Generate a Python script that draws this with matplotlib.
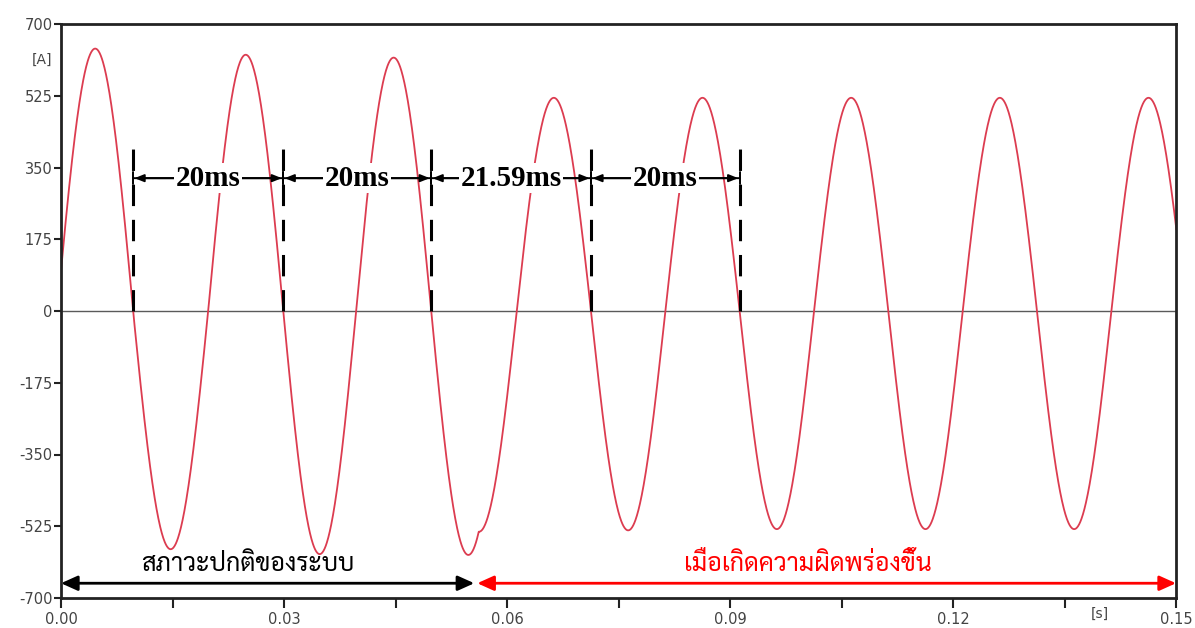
import numpy as np
import matplotlib
matplotlib.use("Agg")
import matplotlib.pyplot as plt
from matplotlib import font_manager
from matplotlib.ft2font import FT2Font

# ---------------- data ----------------
# zero-crossing times [s] bounding each half cycle, and the peak of each half cycle [A]
zero_times = [-0.0005, 0.0097, 0.0198, 0.0299, 0.0397, 0.0498, 0.0613, 0.0713,
              0.0813, 0.0913, 0.1013, 0.1113, 0.1213, 0.1313, 0.1413, 0.1513]
half_peaks = [640, -581, 625, -593, 618, -595, 520, -535, 520, -532, 520, -532,
              520, -532, 520]
fault_time = 0.0562          # kink where the fault starts
normal_half_period = 0.0100  # half period before the fault
fault_trough = -520          # post-fault amplitude of the first faulted half cycle

marker_times = [0.0097, 0.0299, 0.0498, 0.0713, 0.0913]
interval_labels = ["20ms", "20ms", "21.59ms", "20ms"]
marker_top = 410
arrow_level = 324

normal_label = "สภาวะปกติของระบบ"
fault_label = "เมื่อเกิดความผิดพร่องขึ้น"
normal_span = (0.0, 0.0556)
fault_span = (0.0560, 0.15)

y_ticks = [700, 525, 350, 175, 0, -175, -350, -525, -700]
x_major = [0.00, 0.03, 0.06, 0.09, 0.12, 0.15]
x_minor = [0.015, 0.045, 0.075, 0.105, 0.135]

# ---------------- find a Thai capable font ----------------
def find_thai_font():
    prefs = ["Norasi", "Kinnari", "Sarabun", "Angsana", "Noto Serif Thai",
             "Noto Sans Thai", "Loma", "Garuda", "Waree", "Umpush", "Tlwg"]
    cands = []
    for f in font_manager.fontManager.ttflist:
        try:
            ft = FT2Font(f.fname)
            if ft.get_char_index(ord("ส")) and ft.get_char_index(ord("ื")):
                cands.append(f.name)
        except Exception:
            pass
    for p in prefs:
        for c in cands:
            if p.lower() in c.lower():
                return c
    return cands[0] if cands else "DejaVu Sans"

thai_font = find_thai_font()

# ---------------- build waveform from half cycles ----------------
t_all, v_all = [], []
for i, amp in enumerate(half_peaks):
    t0, t1 = zero_times[i], zero_times[i + 1]
    if t0 < fault_time < t1:
        ta = np.linspace(t0, fault_time, 120)
        va = amp * np.sin(np.pi * (ta - t0) / normal_half_period)
        vk = va[-1]
        tb = np.linspace(fault_time, t1, 120)
        vb_post = fault_trough * np.sin(np.pi * (t1 - tb) / 0.0100)
        off = (vk - vb_post[0]) * (1 - (tb - fault_time) / (t1 - fault_time))
        vb = vb_post + off
        t_all += list(ta) + list(tb[1:])
        v_all += list(va) + list(vb[1:])
    else:
        tt = np.linspace(t0, t1, 200)
        vv = amp * np.sin(np.pi * (tt - t0) / (t1 - t0))
        t_all += list(tt)
        v_all += list(vv)
t_all = np.array(t_all)
v_all = np.array(v_all)

# ---------------- figure ----------------
fig = plt.figure(figsize=(11.95, 6.28), dpi=100)
ax = fig.add_axes([61 / 1195, 1 - 598 / 628, 1115 / 1195, 574 / 628])
ax.set_xlim(0, 0.15)
ax.set_ylim(-700, 700)

ax.axhline(0, color="#5a5a5a", lw=1.0, zorder=1)
ax.plot(t_all, v_all, color="#dc3c50", lw=1.3, zorder=2, clip_on=True)

# dashed markers
for mt in marker_times:
    ax.plot([mt, mt], [0, marker_top], color="black", lw=2.2,
            dashes=(7, 4.5), zorder=3)

# interval arrows with labels
for i, lab in enumerate(interval_labels):
    a, b = marker_times[i], marker_times[i + 1]
    ax.annotate("", xy=(b, arrow_level), xytext=(a, arrow_level),
                arrowprops=dict(arrowstyle="|-|,widthA=0.45,widthB=0.45", color="black",
                                lw=1.4, shrinkA=0, shrinkB=0), zorder=4)
    ax.annotate("", xy=(b, arrow_level), xytext=(a, arrow_level),
                arrowprops=dict(arrowstyle="<|-|>,head_length=0.55,head_width=0.22",
                                color="black", lw=1.4, shrinkA=1, shrinkB=1), zorder=4)
    ax.text((a + b) / 2, arrow_level, lab, ha="center", va="center",
            fontsize=21, fontweight="bold", family="Liberation Serif",
            bbox=dict(facecolor="white", edgecolor="none", pad=1.0), zorder=5)

# bottom spans
ax.annotate("", xy=(normal_span[1], -664), xytext=(normal_span[0], -664),
            arrowprops=dict(arrowstyle="<|-|>,head_length=1.0,head_width=0.45",
                            color="black", lw=2, shrinkA=0, shrinkB=0), zorder=4)
ax.annotate("", xy=(fault_span[1], -664), xytext=(fault_span[0], -664),
            arrowprops=dict(arrowstyle="<|-|>,head_length=1.0,head_width=0.45",
                            color="#ff0000", lw=2, shrinkA=0, shrinkB=0), zorder=4)
ax.text(sum(normal_span) / 2 - 0.0027, -618, normal_label, ha="center", va="center",
        fontsize=18, family=[thai_font, "DejaVu Sans"], color="black", zorder=5)
ax.text(sum(fault_span) / 2 - 0.0025, -618, fault_label, ha="center", va="center",
        fontsize=18, family=[thai_font, "DejaVu Sans"], color="#ff0000", zorder=5)

# axes styling
for s in ax.spines.values():
    s.set_linewidth(2)
    s.set_color("#222222")
ax.set_yticks(y_ticks)
ax.set_yticklabels([str(v) for v in y_ticks])
ax.set_xticks(x_major)
ax.set_xticklabels([f"{v:.2f}" for v in x_major])
ax.set_xticks(x_minor, minor=True)
ax.tick_params(axis="both", which="both", direction="out", color="#222222",
               labelcolor="#444444", labelsize=10.5, width=1.5)
ax.tick_params(axis="y", length=5, pad=1)
ax.tick_params(axis="x", which="both", length=7, pad=3)

ax.text(-0.0012, 613, "[A]", ha="right", va="center", fontsize=10, color="#444444")
ax.text(0.1398, -722, "[s]", ha="center", va="top", fontsize=10, color="#444444",
        clip_on=False)

fig.savefig("out.png", dpi=100)
